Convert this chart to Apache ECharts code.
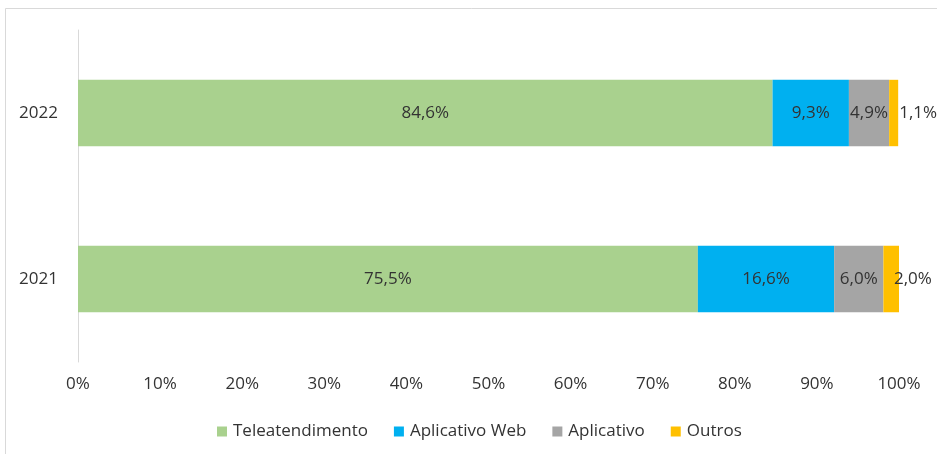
<!DOCTYPE html>
<html>
<head>
<meta charset="utf-8">
<script src="https://cdn.jsdelivr.net/npm/echarts@6/dist/echarts.min.js"></script>
<style>
html,body{margin:0;padding:0;background:#fff;}
#chart{width:937px;height:454px;}
</style>
</head>
<body>
<div id="chart"></div>
<script>
const categories = ['2021', '2022'];
const seriesNames = ['Teleatendimento', 'Aplicativo Web', 'Aplicativo', 'Outros'];
const teleatendimento = [75.5, 84.6];
const aplicativoWeb = [16.6, 9.3];
const aplicativo = [6.0, 4.9];
const outros = [2.0, 1.1];
const xTicks = [0, 10, 20, 30, 40, 50, 60, 70, 80, 90, 100];

const colors = ['#A9D18E', '#00B0F0', '#A5A5A5', '#FFC000'];
const values = [teleatendimento, aplicativoWeb, aplicativo, outros];
const fontFamily = '"Open Sans", sans-serif';
const textColor = '#333333';
const fs = 17;
const fmt = v => v.toFixed(1).replace('.', ',') + '%';

const outrosOffsets = [[-6, 0], [0, 0]];

const series = seriesNames.map((name, si) => ({
  name: name,
  type: 'bar',
  stack: 'total',
  barCategoryGap: '60%',
  itemStyle: { color: colors[si] },
  label: {
    show: true,
    position: si === 3 ? 'right' : 'inside',
    distance: 1,
    color: textColor,
    fontFamily: fontFamily,
    fontSize: fs,
    formatter: p => fmt(p.value)
  },
  data: values[si].map((v, i) => {
    if (si === 3) {
      return { value: v, label: { offset: outrosOffsets[i] } };
    }
    return v;
  })
}));

const chart = echarts.init(document.getElementById('chart'));
chart.setOption({
  backgroundColor: '#fff',
  animation: false,
  graphic: [{
    type: 'rect',
    shape: { x: 5.5, y: 8.5, width: 1000, height: 1000 },
    style: { fill: 'none', stroke: '#D9D9D9', lineWidth: 1 },
    silent: true
  }],
  grid: { left: 78, right: 38, top: 30, bottom: 92, containLabel: false },
  xAxis: {
    type: 'value',
    min: xTicks[0],
    max: xTicks[xTicks.length - 1],
    interval: xTicks[1] - xTicks[0],
    axisLine: { show: false },
    axisTick: { show: false },
    splitLine: { show: false },
    axisLabel: {
      formatter: '{value}%',
      color: textColor,
      fontFamily: fontFamily,
      fontSize: fs,
      margin: 14
    }
  },
  yAxis: {
    type: 'category',
    data: categories,
    axisLine: { show: true, lineStyle: { color: '#D9D9D9', width: 1 } },
    axisTick: { show: false },
    axisLabel: {
      color: textColor,
      fontFamily: fontFamily,
      fontSize: fs,
      margin: 20
    }
  },
  legend: {
    data: seriesNames,
    left: 212,
    top: 418,
    itemWidth: 10,
    itemHeight: 10,
    itemGap: 26,
    icon: 'rect',
    textStyle: { color: textColor, fontFamily: fontFamily, fontSize: fs, padding: [0, 0, 0, 1] }
  },
  series: series
});
</script>
</body>
</html>
